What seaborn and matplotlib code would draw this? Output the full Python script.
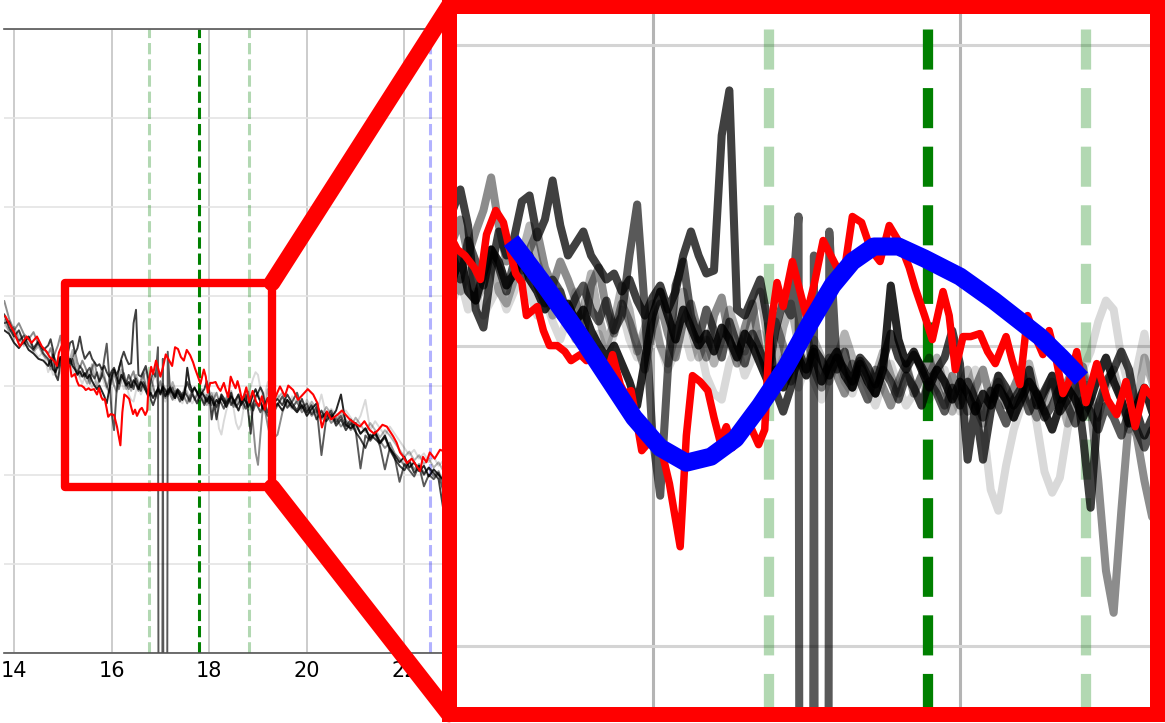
import numpy as np
import matplotlib
matplotlib.use("Agg")
import matplotlib.pyplot as plt
import seaborn as sns
from matplotlib.patches import Rectangle, ConnectionPatch

sns.set_style("white")
plt.rcParams["font.family"] = ["DejaVu Sans"]

x_left = [13.8, 13.9, 14.0, 14.1, 14.2, 14.3, 14.4, 14.5, 14.6]
x_mid = [14.70, 14.75, 14.80, 14.85, 14.90, 14.95, 15.00, 15.05, 15.10, 15.15,
         15.20, 15.25, 15.30, 15.35, 15.40, 15.45, 15.50, 15.55, 15.60, 15.65,
         15.70, 15.75, 15.80, 15.85, 15.90, 15.95, 16.00, 16.05, 16.10, 16.15,
         16.20, 16.25, 16.30, 16.35, 16.40, 16.45, 16.50, 16.55, 16.60, 16.65,
         16.70, 16.75, 16.80, 16.85, 16.90, 16.95, 17.00, 17.05, 17.10, 17.15,
         17.20, 17.25, 17.30, 17.35, 17.40, 17.45, 17.50, 17.55, 17.60, 17.65,
         17.70, 17.75, 17.80, 17.85, 17.90, 17.95, 18.00, 18.05, 18.10, 18.15,
         18.20, 18.25, 18.30, 18.35, 18.40, 18.45, 18.50, 18.55, 18.60, 18.65,
         18.70, 18.75, 18.80, 18.85, 18.90, 18.95, 19.00, 19.05, 19.10, 19.15,
         19.20, 19.25, 19.30]
x_right = [19.4, 19.5, 19.6, 19.7, 19.8, 19.9, 20.0, 20.1, 20.2, 20.3,
           20.4, 20.5, 20.6, 20.7, 20.8, 20.9, 21.0, 21.1, 21.2, 21.3,
           21.4, 21.5, 21.6, 21.7, 21.8, 21.9, 22.0, 22.1, 22.2, 22.3,
           22.4, 22.5, 22.6, 22.7, 22.8]

# gray runs (left part, zoomed part, right part)
gray_1 = ([3.80, 3.65, 3.55, 3.62, 3.48, 3.55, 3.42, 3.50, 3.40] +
          [3.45, 3.52, 3.40, 3.12, 3.06, 3.25, 3.38, 3.30, 3.36, 3.48,
           3.50, 3.36, 3.42, 3.55, 3.40, 3.30, 3.34, 3.38, 3.30, 3.26,
           3.22, 3.24, 3.18, 3.22, 3.15, 3.10, 3.16, 3.20, 3.12, 3.18,
           3.30, 3.38, 3.30, 3.24, 3.25, 3.70, 3.85, 3.12, 3.10, 3.16,
           3.22, 3.08, 2.85, 2.78, 2.86, 2.98, 2.92, 2.99, 2.95, 2.90,
           2.96, 2.92, 2.88, 2.96, 2.93, 2.87, 2.95, 3.04, 2.96, 2.92,
           2.97, 2.93, 2.88, 2.92, 2.96, 3.05, 2.94, 2.62, 2.80, 2.62,
           2.78, 2.90, 2.86, 2.80, 2.84, 2.92, 2.80, 2.85, 2.90, 2.78,
           2.82, 2.90, 2.70, 2.46, 2.80, 2.88, 2.92, 2.98, 2.92, 2.78,
           2.70, 2.76, 2.80] +
          [2.85, 2.78, 2.90, 2.80, 2.72, 2.85, 2.70, 2.78, 2.62, 2.72,
           2.60, 2.68, 2.55, 2.62, 2.50, 2.58, 2.48, 2.40, 2.30, 2.45,
           2.40, 2.35, 2.42, 2.28, 2.18, 2.10, 2.05, 2.15, 2.02, 2.10,
           2.00, 2.08, 2.02, 1.95, 1.60])
gray_2 = ([3.70, 3.72, 3.58, 3.50, 3.56, 3.45, 3.40, 3.48, 3.36] +
          [3.30, 3.22, 3.35, 3.28, 3.20, 3.32, 3.26, 3.18, 3.28, 3.22,
           3.30, 3.20, 3.14, 3.22, 3.18, 3.10, 3.16, 3.20, 3.12, 3.08,
           3.15, 3.05, 3.10, 3.30, 3.47, 3.12, 2.70, 2.50, 2.92, 3.20,
           3.28, 3.10, 3.02, 3.12, 3.05, 2.96, 3.08, 3.00, 2.94, 3.04,
           2.98, 2.90, 3.05, 3.15, 3.10, 3.43, -15.0, 3.30, -15.0, 3.38,
           2.92, 2.98, 2.86, 2.95, 2.90, 2.84, 2.92, 2.88, 2.82, 2.90,
           2.86, 2.80, 2.88, 2.84, 2.78, 2.86, 2.80, 2.88, 2.82, 2.76,
           2.85, 2.80, 2.74, 2.82, 2.86, 2.78, 2.84, 2.76, 2.80, 2.86,
           2.80, 2.74, 2.82, 2.78, 2.72, 2.80, 2.76, 2.70, 2.78, 2.72,
           2.66, 2.72, 2.68] +
          [2.78, 2.88, 2.75, 2.82, 2.92, 2.74, 2.80, 2.68, 2.76, 2.22,
           2.64, 2.72, 2.58, 2.66, 2.54, 2.62, 2.50, 2.07, 2.44, 2.38,
           2.46, 2.32, 2.06, 2.30, 2.20, 1.92, 2.12, 2.05, 1.98, 2.10,
           1.87, 2.00, 1.95, 2.02, 1.80])
gray_3 = ([3.62, 3.58, 3.48, 3.42, 3.50, 3.40, 3.36, 3.30, 3.28] +
          [3.22, 3.30, 3.18, 3.15, 3.24, 3.32, 3.28, 3.20, 3.24, 3.30,
           3.22, 3.18, 3.12, 3.16, 3.10, 3.14, 3.08, 3.12, 3.05, 3.00,
           2.96, 3.00, 2.94, 2.88, 2.80, 2.95, 3.10, 3.18, 3.10, 3.02,
           3.12, 3.06, 3.00, 3.04, 2.98, 3.06, 3.02, 2.96, 3.04, 3.00,
           2.94, 2.88, 2.92, 2.86, 2.92, 2.96, 2.90, 2.98, 2.88, 2.94,
           2.98, 2.90, 2.86, 2.94, 2.88, 2.84, 2.92, 3.20, 3.02, 2.94,
           2.98, 2.92, 2.86, 2.92, 2.88, 2.82, 2.88, 2.84, 2.78, 2.84,
           2.80, 2.86, 2.82, 2.76, 2.82, 2.88, 2.84, 2.78, 2.72, 2.80,
           2.86, 2.82, 2.76, 2.82, 2.90, 2.96, 2.88, 2.82, 2.74, 2.80,
           2.86, 2.78, 2.72] +
          [2.80, 2.72, 2.84, 2.76, 2.70, 2.78, 2.66, 2.74, 2.80, 2.64,
           2.70, 2.64, 2.72, 2.90, 2.56, 2.52, 2.58, 2.46, 2.52, 2.40,
           2.48, 2.36, 2.44, 2.30, 2.22, 2.14, 2.20, 2.08, 2.14, 2.04,
           2.10, 1.98, 2.06, 2.00, 1.94])
gray_4 = ([3.95, 3.75, 3.62, 3.70, 3.58, 3.52, 3.60, 3.46, 3.42] +
          [3.35, 3.42, 3.30, 3.38, 3.45, 3.56, 3.40, 3.28, 3.34, 3.25,
           3.32, 3.38, 3.26, 3.20, 3.28, 3.22, 3.15, 3.02, 3.20, 3.26,
           3.12, 3.04, 3.14, 3.08, 3.00, 2.92, 3.06, 3.14, 3.04, 2.96,
           3.08, 3.14, 3.04, 2.96, 3.10, 3.16, 3.02, 2.94, 3.06, 3.14,
           2.98, 2.92, 3.08, 3.00, 2.88, 2.96, 3.05, 2.92, 2.86, 2.96,
           2.90, 2.84, 2.94, 2.88, 2.82, 2.92, 2.86, 2.80, 2.88, 2.94,
           2.84, 2.90, 2.96, 2.86, 2.80, 2.90, 2.84, 2.78, 2.86, 2.92,
           2.82, 2.88, 2.80, 2.86, 2.92, 2.82, 2.76, 2.84, 2.90, 2.82,
           2.88, 2.94, 2.93, 2.80, 2.55, 2.25, 2.11, 2.45, 2.76, 2.70,
           2.55, 2.43, 2.40] +
          [2.45, 2.70, 2.84, 2.76, 2.82, 2.70, 2.76, 2.66, 2.72, 2.62,
           2.68, 2.58, 2.64, 2.54, 2.60, 2.50, 2.56, 2.46, 2.52, 2.42,
           2.46, 2.38, 2.30, 2.36, 2.24, 2.18, 2.10, 2.16, 2.06, 2.12,
           2.02, 2.08, 1.98, 2.04, 1.90])
gray_5 = ([3.74, 3.60, 3.66, 3.52, 3.46, 3.55, 3.38, 3.44, 3.34] +
          [3.28, 3.18, 3.25, 3.15, 3.20, 3.30, 3.18, 3.14, 3.22, 3.30,
           3.40, 3.28, 3.20, 3.10, 3.18, 3.08, 3.02, 3.12, 3.24, 3.10,
           3.00, 3.08, 3.20, 3.12, 2.98, 3.06, 3.14, 3.00, 2.94, 3.04,
           3.18, 3.06, 2.96, 3.02, 2.94, 3.02, 3.12, 3.04, 2.98, 3.10,
           3.18, 3.02, 2.92, 3.06, 3.14, 3.00, 2.92, 3.02, 2.96, 2.88,
           2.96, 3.04, 2.96, 2.88, 2.82, 2.90, 2.98, 2.90, 2.84, 2.92,
           2.86, 2.80, 2.90, 2.96, 2.86, 2.78, 2.86, 2.92, 2.80, 2.74,
           2.84, 2.90, 2.82, 2.76, 2.86, 2.94, 2.84, 2.78, 2.88, 2.84,
           2.74, 2.82, 2.90, 2.84, 2.76, 2.86, 2.92, 2.82, 2.72, 2.80,
           2.96, 2.88, 2.78] +
          [2.86, 2.92, 2.80, 2.74, 2.84, 2.78, 2.70, 2.82, 2.74, 2.66,
           2.76, 2.68, 2.60, 2.70, 2.62, 2.54, 2.64, 2.56, 2.48, 2.58,
           2.50, 2.42, 2.50, 2.44, 2.36, 2.28, 2.20, 2.26, 2.16, 2.22,
           2.12, 2.18, 2.08, 2.14, 2.04])
gray_6 = ([3.68, 3.62, 3.52, 3.58, 3.44, 3.50, 3.40, 3.32, 3.38] +
          [3.15, 3.22, 3.12, 3.18, 3.10, 3.15, 3.20, 3.12, 3.18, 3.26,
           3.18, 3.10, 3.16, 3.08, 3.02, 3.10, 3.18, 3.06, 2.98, 3.04,
           2.96, 3.04, 3.12, 3.02, 2.96, 3.04, 3.10, 3.00, 2.92, 2.98,
           3.06, 2.96, 3.02, 2.90, 2.84, 2.82, 2.94, 3.00, 2.90, 2.96,
           3.04, 2.94, 2.88, 2.96, 2.92, 2.86, 2.94, 2.88, 2.82, 2.90,
           2.96, 2.88, 2.84, 2.92, 2.86, 2.80, 2.88, 2.94, 2.86, 2.80,
           2.84, 2.90, 2.82, 2.86, 2.92, 2.84, 2.78, 2.86, 2.92, 2.74,
           2.52, 2.45, 2.60, 2.72, 2.80, 2.86, 2.74, 2.58, 2.51, 2.56,
           2.72, 2.84, 2.92, 2.98, 3.08, 3.15, 3.12, 2.96, 2.86, 2.92,
           3.04, 2.90, 2.78] +
          [2.90, 2.82, 2.76, 2.88, 2.80, 2.74, 2.84, 2.76, 2.70, 2.90,
           2.66, 2.74, 2.68, 2.62, 2.72, 2.64, 2.56, 2.66, 2.84, 2.50,
           2.60, 2.52, 2.44, 2.54, 2.46, 2.38, 2.30, 2.22, 2.28, 2.18,
           2.24, 2.14, 2.20, 2.10, 2.16])
gray_alpha = [0.75, 0.65, 0.85, 0.45, 0.3, 0.15]

# red run, read at its own turning points
red_x = ([13.82, 14.00, 14.12, 14.26, 14.36, 14.47, 14.57, 14.67] +
         [14.73, 14.78, 14.84, 14.88, 14.92, 14.98, 15.03, 15.07, 15.11, 15.15,
          15.18, 15.25, 15.29, 15.33, 15.38, 15.43, 15.47, 15.53, 15.57, 15.64,
          15.67, 15.70, 15.74, 15.79, 15.82, 15.86, 15.90, 15.93, 15.98, 16.05,
          16.11, 16.18, 16.22, 16.26, 16.31, 16.36, 16.40, 16.44, 16.48, 16.52,
          16.58, 16.62, 16.69, 16.73, 16.76, 16.81, 16.85, 16.91, 16.96, 17.00,
          17.05, 17.11, 17.16, 17.24, 17.30, 17.36, 17.42, 17.48, 17.54, 17.61,
          17.67, 17.71, 17.77, 17.82, 17.89, 17.93, 17.97, 18.02, 18.07, 18.13,
          18.18, 18.23, 18.30, 18.34, 18.39, 18.44, 18.49, 18.54, 18.58, 18.62,
          18.67, 18.71, 18.76, 18.82, 18.89, 18.96, 19.02, 19.08, 19.14, 19.20] +
         [19.30, 19.45, 19.55, 19.62, 19.72, 19.82, 19.92, 20.02, 20.13, 20.22,
          20.31, 20.41, 20.50, 20.62, 20.72, 20.88, 20.98, 21.09, 21.18, 21.29,
          21.38, 21.46, 21.55, 21.64, 21.77, 21.84, 21.91, 21.98, 22.05, 22.15,
          22.26, 22.32, 22.38, 22.45, 22.52, 22.62, 22.73, 22.82])
red_y = ([3.78, 3.60, 3.44, 3.55, 3.48, 3.55, 3.44, 3.38] +
         [3.32, 3.30, 3.26, 3.22, 3.37, 3.45, 3.41, 3.32, 3.24, 3.21,
          3.10, 3.13, 3.05, 3.00, 3.00, 2.98, 2.95, 2.97, 2.95, 2.96,
          2.93, 2.90, 2.97, 2.87, 2.84, 2.85, 2.74, 2.65, 2.68, 2.67,
          2.54, 2.33, 2.70, 2.90, 2.88, 2.85, 2.76, 2.68, 2.73, 2.66,
          2.73, 2.75, 2.67, 2.72, 3.03, 3.21, 3.13, 3.28, 3.18, 3.10,
          3.20, 3.35, 3.30, 3.22, 3.43, 3.41, 3.32, 3.28, 3.40, 3.34,
          3.26, 3.19, 3.10, 3.02, 3.18, 3.10, 2.92, 3.03, 3.03, 3.04,
          2.98, 2.94, 3.03, 2.95, 2.87, 3.10, 3.03, 2.97, 3.05, 2.97,
          2.84, 2.88, 2.98, 2.81, 2.94, 2.82, 2.77, 2.88, 2.73, 2.86] +
         [2.80, 2.99, 2.88, 3.00, 2.95, 2.84, 2.90, 2.96, 2.90, 2.80,
          2.53, 2.71, 2.62, 2.67, 2.72, 2.62, 2.58, 2.54, 2.60, 2.50,
          2.46, 2.50, 2.56, 2.54, 2.43, 2.36, 2.25, 2.20, 2.13, 2.18,
          2.09, 2.04, 2.20, 2.14, 2.25, 2.18, 2.28, 2.26])

# smooth blue curve shown only in the zoom panel
fit_x = [15.08, 15.30, 15.52, 15.70, 15.88, 16.05, 16.22, 16.38, 16.54, 16.70,
         16.87, 17.02, 17.17, 17.30, 17.44, 17.60, 17.77, 18.00, 18.22, 18.37,
         18.52, 18.66, 18.79]
fit_y = [3.35, 3.20, 3.04, 2.90, 2.76, 2.66, 2.61, 2.63, 2.69, 2.80,
         2.93, 3.07, 3.20, 3.28, 3.33, 3.33, 3.29, 3.23, 3.15, 3.09,
         3.03, 2.96, 2.89]

# vertical reference lines
centre_line = 17.79
side_lines = [16.76, 18.82]
blue_line = 22.52

# box drawn on the main panel
box_x = [15.035, 19.287]
box_y = [1.86, 4.152]

x_all = np.array(x_left + x_mid + x_right)
grays = [gray_1, gray_2, gray_3, gray_4, gray_5, gray_6]

W, H = 1165, 723
fig = plt.figure(figsize=(W / 100, H / 100), dpi=100)
ax = fig.add_axes([4 / W, (H - 653) / H, (444 - 4) / W, (653 - 29) / H])
axins = fig.add_axes([449 / W, (H - 714) / H, (1157 - 449) / W, (714 - 6) / H])


def draw_lines(a, lw_gray, lw_red, lw_vline, dash):
    for g, al in zip(grays, gray_alpha):
        sns.lineplot(x=x_all, y=np.array(g), ax=a, color="black", alpha=al,
                     linewidth=lw_gray, sort=False, estimator=None, legend=False)
    sns.lineplot(x=np.array(red_x), y=np.array(red_y), ax=a, color="red",
                 linewidth=lw_red, sort=False, estimator=None, legend=False)
    for xv in side_lines:
        a.axvline(xv, color="green", alpha=0.3, ls=(0, dash), lw=lw_vline, zorder=1)
    a.axvline(centre_line, color="green", ls=(0, dash), lw=lw_vline, zorder=1)


# main panel
draw_lines(ax, 1.4, 1.5, 2.2, (3.7, 1.6))
ax.axvline(blue_line, color="blue", alpha=0.3, ls="--", lw=2.2, zorder=1)
ax.add_patch(Rectangle((box_x[0], box_y[0]), box_x[1] - box_x[0], box_y[1] - box_y[0],
                       fill=False, ec="red", lw=6, joinstyle="round", zorder=5))
ax.set_xlim(13.795, 22.811)
ax.set_ylim(0, 7)
ax.set_xticks([14, 16, 18, 20, 22])
ax.set_yticks(range(8))
ax.set_yticklabels([])
ax.set_xlabel("")
ax.set_ylabel("")
ax.tick_params(axis="y", length=0)
ax.tick_params(axis="x", length=4, width=1, color="#555555", labelsize=15,
               labelcolor="black", pad=2)
ax.grid(axis="x", color="#c4c4c4", lw=1.2)
ax.grid(axis="y", color="#e4e4e4", lw=1.2)
ax.set_axisbelow(True)
for s in ["left", "right"]:
    ax.spines[s].set_visible(False)
for s in ["top", "bottom"]:
    ax.spines[s].set_color("#555555")
    ax.spines[s].set_linewidth(1.2)

# zoom panel
draw_lines(axins, 5.8, 5.4, 7.4, (3.9, 1.8))
sns.lineplot(x=np.array(fit_x), y=np.array(fit_y), ax=axins, color="blue",
             linewidth=13, sort=False, estimator=None, legend=False)
axins.lines[-1].set_solid_capstyle("butt")
axins.set_xlim(14.676, 19.282)
axins.set_ylim(1.773, 4.131)
axins.set_xticks([16, 18])
axins.set_yticks([2, 3, 4])
axins.set_xticklabels([])
axins.set_yticklabels([])
axins.set_xlabel("")
axins.set_ylabel("")
axins.tick_params(length=0)
axins.grid(axis="x", color="#b4b4b4", lw=2.2)
axins.grid(axis="y", color="#d4d4d4", lw=2.2)
axins.set_axisbelow(True)
for s in axins.spines.values():
    s.set_visible(True)
    s.set_color("red")
    s.set_linewidth(10.8)

# connector lines from the box to the zoom panel
for yb, yi in [(box_y[1], 1), (box_y[0], 0)]:
    con = ConnectionPatch(xyA=(box_x[1], yb), coordsA=ax.transData,
                          xyB=(0, yi), coordsB=axins.transAxes,
                          color="red", lw=12)
    fig.add_artist(con)

fig.savefig("out.png", dpi=100)
